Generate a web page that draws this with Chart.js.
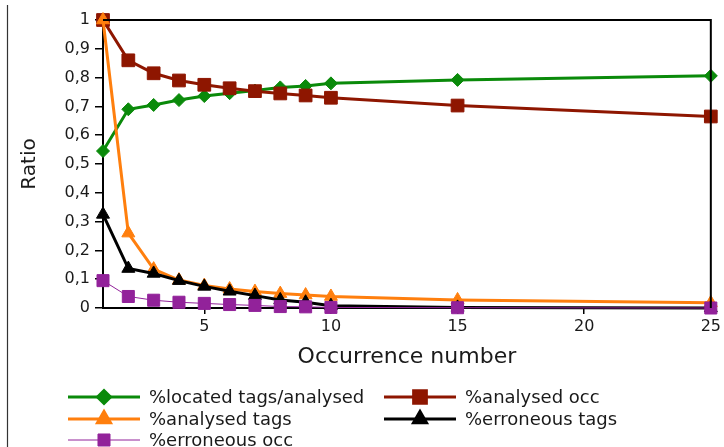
<!DOCTYPE html>
<html>
<head>
<meta charset="utf-8">
<script src="https://cdn.jsdelivr.net/npm/chart.js@4/dist/chart.umd.min.js"></script>
<style>
  html, body { margin: 0; padding: 0; background: #fff; }
  #wrap { width: 724px; height: 447px; position: relative; }
</style>
</head>
<body>
<div id="wrap"><canvas id="myChart" width="724" height="447"></canvas></div>
<script>
// x values (occurrence number)
const occurrences = [1, 2, 3, 4, 5, 6, 7, 8, 9, 10, 15, 25]

// series values
const locatedTags = [0.545, 0.69, 0.705, 0.722, 0.736, 0.746, 0.755, 0.766, 0.771, 0.78, 0.792, 0.806]
const analysedOcc = [1.0, 0.86, 0.815, 0.79, 0.775, 0.763, 0.753, 0.745, 0.738, 0.73, 0.703, 0.665]
const analysedTags = [1.0, 0.26, 0.135, 0.097, 0.078, 0.066, 0.057, 0.05, 0.045, 0.04, 0.028, 0.018]
const erroneousTags = [0.325, 0.137, 0.12, 0.095, 0.075, 0.058, 0.043, 0.028, 0.02, 0.008, 0.002, 0.0]
const erroneousOcc = [0.095, 0.04, 0.027, 0.02, 0.016, 0.012, 0.009, 0.005, 0.004, 0.002, 0.001, 0.0]

const xTicks = [5, 10, 15, 20, 25]
const seriesLabels = ['%located tags/analysed', '%analysed occ', '%analysed tags', '%erroneous tags', '%erroneous occ']

const FONT = "'DejaVu Sans', sans-serif"
const TEXT = '#1a1a1a'

function points(values) {
    return occurrences.map((x, i) => ({ x: x, y: values[i] }))
}

// Frame around plot area, the page rule on the left and the legend
const decorations = {
    id: 'decorations',
    afterDraw(chart) {
        const ctx = chart.ctx
        const a = chart.chartArea
        ctx.save()
        // top and right sides of the box
        ctx.strokeStyle = '#000'
        ctx.lineWidth = 2
        ctx.beginPath()
        ctx.moveTo(a.left, a.top)
        ctx.lineTo(a.right, a.top)
        ctx.lineTo(a.right, a.bottom)
        ctx.stroke()

        // thin rule at the far left
        ctx.strokeStyle = '#333'
        ctx.lineWidth = 1.2
        ctx.beginPath()
        ctx.moveTo(7.5, 5)
        ctx.lineTo(7.5, 447)
        ctx.stroke()

        // legend in two columns
        const cols = [68, 384]
        const rows = [397, 419, 440]
        ctx.font = '18px ' + FONT
        ctx.textBaseline = 'middle'
        ctx.textAlign = 'left'
        chart.data.datasets.forEach((ds, i) => {
            const x0 = cols[i % 2]
            const y = rows[Math.floor(i / 2)]
            ctx.strokeStyle = ds.borderColor
            ctx.lineWidth = ds.borderWidth
            ctx.beginPath()
            ctx.moveTo(x0, y)
            ctx.lineTo(x0 + 72, y)
            ctx.stroke()
            Chart.helpers.drawPoint(ctx, {
                pointStyle: ds.pointStyle,
                radius: ds.pointRadius,
                rotation: 0,
                borderWidth: 1
            }, x0 + 36, y)
            ctx.fillStyle = ds.pointBackgroundColor
            ctx.fill()
            ctx.fillStyle = TEXT
            ctx.fillText(ds.label, x0 + 81, y + 1)
        })
        ctx.restore()
    }
}

function makeSet(label, values, color, style, radius, width, order) {
    return {
        label: label,
        data: points(values),
        borderColor: color,
        backgroundColor: color,
        pointBackgroundColor: color,
        pointBorderColor: color,
        pointBorderWidth: 1,
        pointStyle: style,
        pointRadius: radius,
        pointHoverRadius: radius,
        borderWidth: width,
        tension: 0,
        clip: false,
        order: order
    }
}

const ctx = document.getElementById('myChart').getContext('2d')
const myChart = new Chart(ctx, {
    type: 'line',
    data: {
        datasets: [
            makeSet(seriesLabels[0], locatedTags, '#0a8a0a', 'rectRot', 6.5, 3, 5),
            makeSet(seriesLabels[1], analysedOcc, '#8e1600', 'rect', 9, 3, 4),
            makeSet(seriesLabels[2], analysedTags, '#ff7f0e', 'triangle', 7.5, 3, 3),
            makeSet(seriesLabels[3], erroneousTags, '#000000', 'triangle', 7.5, 3, 2),
            makeSet(seriesLabels[4], erroneousOcc, '#92229a', 'rect', 8.5, 1, 1)
        ]
    },
    options: {
        responsive: false,
        animation: false,
        devicePixelRatio: 1,
        layout: { padding: { left: 0, top: 20, right: 13, bottom: 69 } },
        plugins: {
            legend: { display: false },
            tooltip: { enabled: false }
        },
        scales: {
            x: {
                type: 'linear',
                min: 1,
                max: 25,
                afterBuildTicks: s => { s.ticks = xTicks.map(v => ({ value: v })) },
                afterFit: s => { s.height = 70 },
                border: { display: true, color: '#000', width: 2 },
                grid: { drawOnChartArea: false, drawTicks: true, tickLength: 6, color: '#000', lineWidth: 1.5 },
                ticks: { color: TEXT, padding: 3, font: { family: FONT, size: 16 }, maxRotation: 0 },
                title: { display: true, text: 'Occurrence number', color: TEXT, font: { family: FONT, size: 22 }, padding: { top: 0, bottom: 8 } }
            },
            y: {
                min: 0,
                max: 1,
                afterFit: s => { s.width = 103 },
                border: { display: true, color: '#000', width: 2 },
                grid: { drawOnChartArea: false, drawTicks: true, tickLength: 8, color: '#000', lineWidth: 1.5 },
                ticks: {
                    stepSize: 0.1,
                    color: TEXT,
                    padding: 5,
                    font: { family: FONT, size: 16 },
                    callback: v => Number(v.toFixed(1)).toLocaleString('fr-FR')
                },
                title: { display: true, text: 'Ratio', color: TEXT, font: { family: FONT, size: 20 }, padding: { top: 18, bottom: 0 } }
            }
        }
    },
    plugins: [decorations]
})
</script>
</body>
</html>
